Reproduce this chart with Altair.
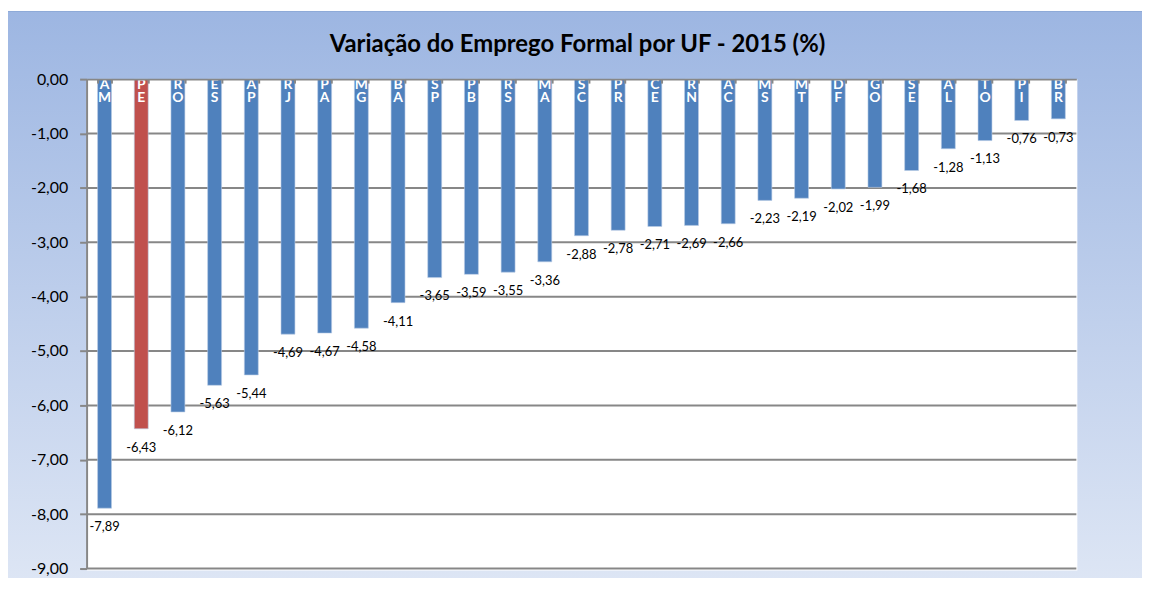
import altair as alt
import pandas as pd

# ---- data ----
ufs = ["AM", "PE", "RO", "ES", "AP", "RJ", "PA", "MG", "BA", "SP", "PB", "RS", "MA",
       "SC", "PR", "CE", "RN", "AC", "MS", "MT", "DF", "GO", "SE", "AL", "TO", "PI", "BR"]
values = [-7.89, -6.43, -6.12, -5.63, -5.44, -4.69, -4.67, -4.58, -4.11, -3.65, -3.59, -3.55, -3.36,
          -2.88, -2.78, -2.71, -2.69, -2.66, -2.23, -2.19, -2.02, -1.99, -1.68, -1.28, -1.13, -0.76, -0.73]
highlight = ["PE"]
y_ticks = [0, -1, -2, -3, -4, -5, -6, -7, -8, -9]
grid_ticks = [-1, -2, -3, -4, -5, -6, -7, -8, -9]
title_text = "Variação do Emprego Formal por UF - 2015 (%)"

W, H = 995, 492
FONT = "Lato"
GRAY = "#878787"

df = pd.DataFrame({"uf": ufs, "value": values})
df["letters"] = df["uf"].apply(lambda s: "\n".join(s))
df["label"] = df["value"].map(lambda v: f"{v:.2f}".replace(".", ","))
df["hl"] = df["uf"].isin(highlight)

x_axis = alt.Axis(orient="bottom", offset=-H, labels=False, title=None, tickBand="extent",
                  tickSize=4, tickColor=GRAY, tickWidth=2, domainColor=GRAY, domainWidth=2,
                  grid=False, zindex=1)
x_enc = alt.X("uf:N", sort=ufs, axis=x_axis,
              scale=alt.Scale(paddingInner=0.62, paddingOuter=0.3))
y_scale = alt.Scale(domain=[-9, 0], nice=False, zero=False)
y_axis = alt.Axis(values=y_ticks, title=None, grid=False,
                  labelExpr="replace(replace(format(datum.value, '.2f'), '.', ','), '\u2212', '-')",
                  labelFont=FONT, labelFontSize=16, labelColor="#000000", labelPadding=12,
                  tickSize=7, tickColor=GRAY, tickWidth=2, domainColor=GRAY, domainWidth=2,
                  zindex=1)

one = alt.Data(values=[{"k": 0}])

background = alt.Chart(one).mark_rect(
    fill=alt.Gradient(gradient="linear",
                      stops=[alt.GradientStop(color="#9DB6E2", offset=0),
                             alt.GradientStop(color="#DFE7F5", offset=1)],
                      x1=0, x2=0, y1=0, y2=1),
    stroke="#8DA8D8", strokeWidth=1,
).encode(x=alt.value(-85), x2=alt.value(W + 70), y=alt.value(-68), y2=alt.value(H + 30))

plot_bg = alt.Chart(one).mark_rect(fill="white").encode(
    x=alt.value(0), x2=alt.value(W + 1), y=alt.value(0), y2=alt.value(H + 2))

title = alt.Chart(one).mark_text(font=FONT, fontSize=24, fontWeight="bold", color="#000000",
                                 align="center", baseline="middle").encode(
    x=alt.value(W / 2 - 4), y=alt.value(-34), text=alt.value(title_text))

grid = alt.Chart(pd.DataFrame({"t": grid_ticks})).mark_rule(color=GRAY, strokeWidth=2).encode(
    y=alt.Y("t:Q", scale=y_scale, axis=y_axis))

bars = alt.Chart(df).mark_bar(stroke="#B9CDE5", strokeWidth=0.6).encode(
    x=x_enc,
    y=alt.Y("value:Q", scale=y_scale, axis=y_axis),
    color=alt.Color("hl:N", scale=alt.Scale(domain=[False, True], range=["#4F81BD", "#C0504D"]),
                    legend=None),
)

letters = alt.Chart(df).mark_text(font=FONT, fontSize=14, fontWeight="bold", color="white",
                                  align="center", baseline="top", lineBreak="\n",
                                  lineHeight=13, dy=-1).encode(
    x=x_enc, y=alt.datum(0, scale=y_scale), text="letters:N")

labels = alt.Chart(df).mark_text(font=FONT, fontSize=13, color="#000000", align="center",
                                 baseline="middle", dy=19).encode(
    x=x_enc, y=alt.Y("value:Q", scale=y_scale, axis=y_axis), text="label:N")

chart = alt.layer(background, plot_bg, title, grid, bars, letters, labels).properties(
    width=W, height=H,
    autosize=alt.AutoSizeParams(type="none"),
    padding={"left": 79, "top": 70, "right": 66, "bottom": 8},
).configure_view(stroke=None)

chart.save("out.html", embed_options={"renderer": "svg", "actions": False})
